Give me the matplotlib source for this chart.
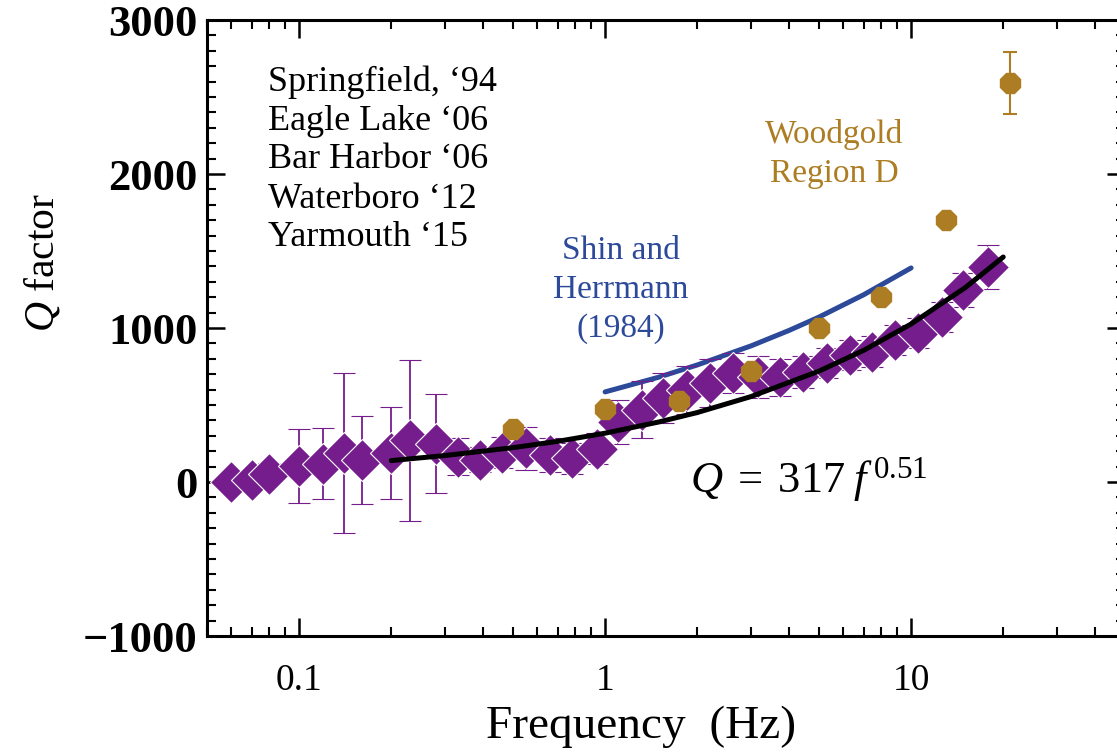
import numpy as np
import matplotlib
matplotlib.use('Agg')
import matplotlib.pyplot as plt
from matplotlib.ticker import MultipleLocator, LogLocator, NullFormatter

plt.rcParams['font.family'] = ['Liberation Serif', 'DejaVu Serif']
plt.rcParams['mathtext.fontset'] = 'custom'
plt.rcParams['mathtext.rm'] = 'Liberation Serif'
plt.rcParams['mathtext.it'] = 'Liberation Serif:italic'

# Purple diamonds: combined Maine sites
freq_sites = [0.060, 0.070, 0.080, 0.10, 0.12, 0.14, 0.16, 0.20, 0.23, 0.28, 0.33, 0.39,
              0.46, 0.55, 0.66, 0.78, 0.94, 1.10, 1.32, 1.55, 1.85, 2.20, 2.62, 3.15,
              3.73, 4.44, 5.31, 6.30, 7.45, 8.87, 10.5, 12.6, 14.8, 17.9]
q_sites = [0, 15, 55, 105, 120, 190, 145, 190, 270, 250, 165, 145,
           190, 220, 175, 155, 215, 390, 468, 545, 597, 643, 708, 680,
           680, 715, 773, 825, 845, 922, 967, 1071, 1247, 1396]
err_sites = [0, 0, 70, 240, 230, 520, 285, 300, 520, 320, 120, 80,
             100, 140, 110, 100, 100, 145, 185, 160, 155, 155, 130, 135,
             120, 105, 100, 100, 100, 95, 100, 100, 110, 145]

# Gold octagons: Woodgold Region D
freq_wood = [0.5, 1.0, 1.75, 3.0, 5.0, 8.0, 13.0, 21.0]
q_wood = [345, 475, 525, 720, 1000, 1200, 1700, 2590]
err_wood = [0, 0, 0, 0, 0, 0, 0, 200]

# Shin and Herrmann (1984) curve
freq_sh = [1.0, 1.5, 2.0, 3.0, 4.0, 5.0, 7.0, 10.0]
q_sh = [585, 681, 760, 884, 985, 1071, 1216, 1390]

# fitted curve Q = 317 f^0.51
freq_fit = [0.2, 0.3, 0.5, 0.7, 1.0, 1.5, 2.0, 3.0, 5.0, 7.0, 10.0, 15.0, 20.0]
q_fit = [139, 172, 223, 264, 317, 390, 451, 555, 720, 855, 1026, 1261, 1461]

site_labels = ["Springfield, \u201894", "Eagle Lake \u201806", "Bar Harbor \u201806",
               "Waterboro \u201812", "Yarmouth \u201815"]
xtick_vals = [0.1, 1, 10]
xtick_labels = ['0.1', '1', '10']
ytick_vals = [-1000, 0, 1000, 2000, 3000]
ytick_labels = ['\u22121000', '0', '1000', '2000', '3000']

purple = '#761d8e'
gold = '#ad7d24'
blue = '#2d4a9a'

W, H = 1117, 752
fig = plt.figure(figsize=(W / 100, H / 100), dpi=100)
ax = fig.add_axes([207 / W, (H - 636) / H, (1125 - 207) / W, (636 - 20) / H])


def fpos(x, y):
    return x / W, 1 - y / H


ax.plot(freq_sh, q_sh, color=blue, lw=3.6, solid_capstyle='round', zorder=2)
ax.errorbar(freq_sites, q_sites, yerr=err_sites, fmt='D', ms=21, color=purple,
            mec='white', mew=0.8, ecolor=purple, elinewidth=1.3, capsize=8,
            capthick=1.3, zorder=3)
ax.plot(freq_fit, q_fit, color='black', lw=3.6, solid_capstyle='round', zorder=4)
ax.errorbar(freq_wood, q_wood, yerr=err_wood, fmt='8', ms=16, color=gold, mec=gold,
            ecolor=gold, elinewidth=1.5, capsize=5, capthick=1.5, zorder=5)

ax.set_xscale('log')
ax.set_xlim(0.05, 50)
ax.set_ylim(-1000, 3000)
ax.set_xticks(xtick_vals, labels=xtick_labels, fontsize=27)
ax.xaxis.set_minor_locator(LogLocator(base=10, subs=np.arange(2, 10), numticks=20))
ax.xaxis.set_minor_formatter(NullFormatter())
ax.set_yticks(ytick_vals, labels=ytick_labels, fontsize=32, fontweight='bold')
ax.yaxis.set_minor_locator(MultipleLocator(100))

ax.tick_params(which='both', direction='in', top=True, right=True)
ax.tick_params(which='major', length=13, width=1.8)
ax.tick_params(which='minor', length=6.5, width=1.5)
ax.tick_params(axis='x', pad=20)
ax.tick_params(axis='y', pad=7)
for sp in ax.spines.values():
    sp.set_linewidth(2.2)

fig.text(*fpos(641, 727), 'Frequency  (Hz)', fontsize=34, ha='center', va='center')
fig.text(*fpos(42, 262), r'$\mathit{Q}$ factor', fontsize=30, rotation=90,
         ha='center', va='center')

for i, lab in enumerate(site_labels):
    fig.text(*fpos(268, 82 + 39 * i), lab, fontsize=26, ha='left', va='center')

fig.text(*fpos(834, 154), 'Woodgold\nRegion D', fontsize=24, color=gold,
         ha='center', va='center', linespacing=1.35)
fig.text(*fpos(621, 290), 'Shin and\nHerrmann\n(1984)', fontsize=24, color=blue,
         ha='center', va='center', linespacing=1.35)
fig.text(*fpos(690, 492), r'$Q\;=\;317\;f^{\,0.51}$', fontsize=32,
         ha='left', va='baseline')

fig.savefig('out.png', dpi=100)
